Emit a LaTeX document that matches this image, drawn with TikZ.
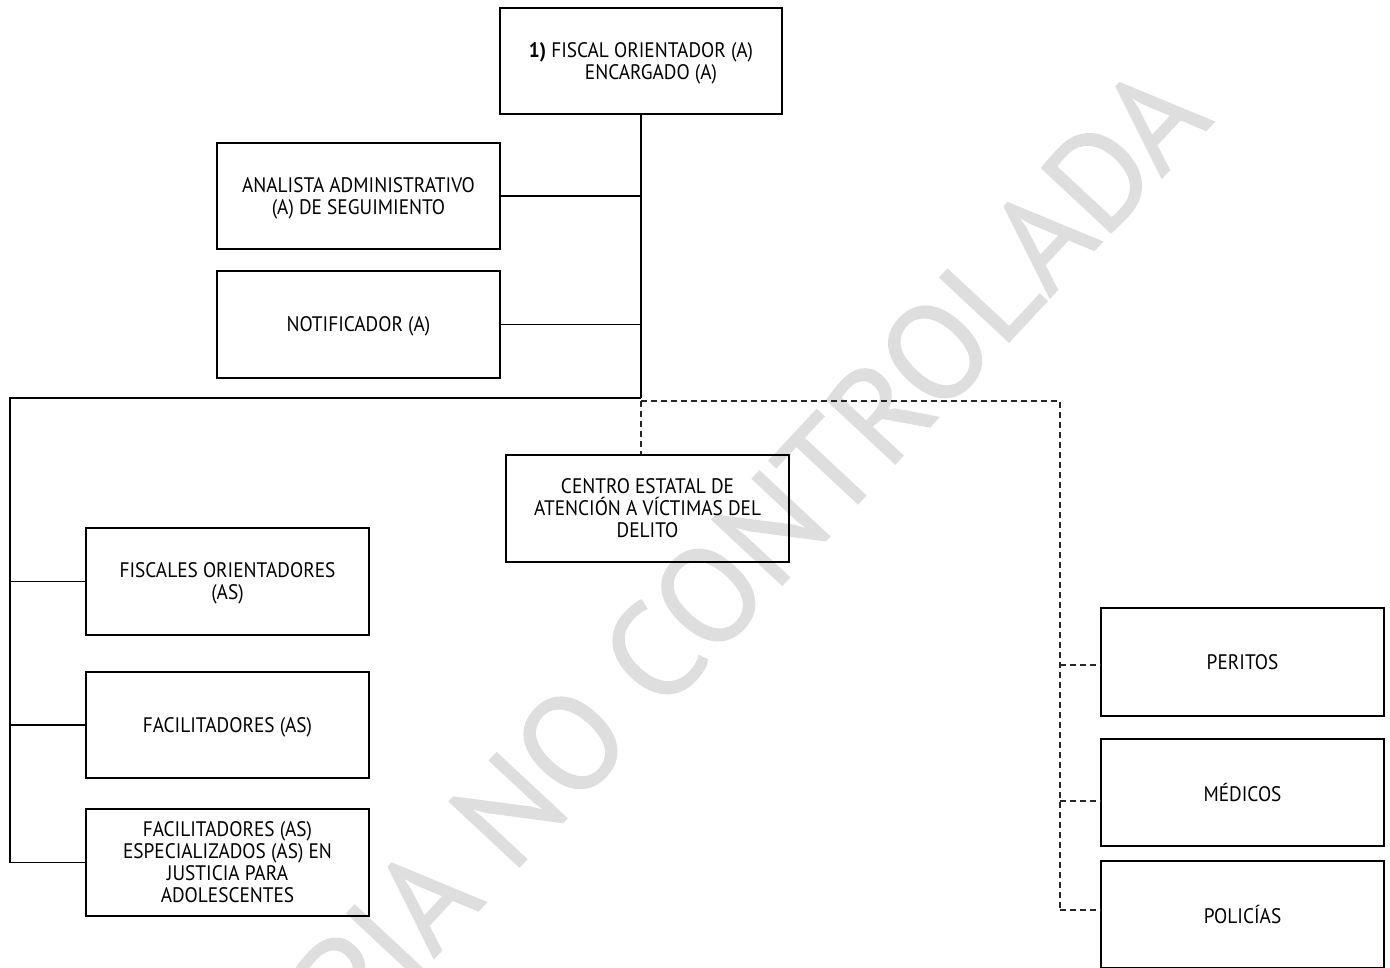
\documentclass[tikz,border=0pt]{standalone}
\usepackage{fontspec}
\setmainfont[FakeStretch=0.92]{PT Sans}
\newfontfamily\wmfont[FakeBold=1]{PT Sans}
\begin{document}
\begin{tikzpicture}[x=1pt,y=-1pt,
  orgbox/.style={draw=black, line width=1.8pt, minimum width=283pt, minimum height=107pt,
    align=center, inner sep=0pt, text depth=0pt, font=\fontsize{21}{22}\selectfont},
  conn/.style={draw=black, line width=1.1pt},
  dconn/.style={draw=black!85, line width=1.1pt, dash pattern=on 6pt off 4pt}]
\useasboundingbox (0,0) rectangle (1390,967);
\clip (0,0) rectangle (1390,967);
% watermark
\node[text=black!13, rotate=47, anchor=base east, inner sep=0pt,
  font=\wmfont\fontsize{135}{135}\selectfont] (wm) at (1215,121) {COPIA NO CONTROLADA};
% boxes
\node[orgbox, minimum width=282pt, minimum height=106pt] (top) at (641,61)
  {\textbf{1)} FISCAL ORIENTADOR (A)\\\hspace*{20pt}ENCARGADO (A)};
\node[orgbox, minimum height=106pt] (ana) at (358.5,196) {ANALISTA ADMINISTRATIVO\\(A) DE SEGUIMIENTO};
\node[orgbox] (noti) at (358.5,324.5) {NOTIFICADOR (A)};
\node[orgbox] (centro) at (647.5,508.5) {CENTRO ESTATAL DE\\ATENCIÓN A VÍCTIMAS DEL\\DELITO};
\node[orgbox] (fo) at (227.5,581.5) {FISCALES ORIENTADORES\\(AS)};
\node[orgbox, minimum height=106pt] (fac) at (227.5,725) {FACILITADORES (AS)};
\node[orgbox] (face) at (227.5,862.5) {FACILITADORES (AS)\\ESPECIALIZADOS (AS) EN\\JUSTICIA PARA\\ADOLESCENTES};
\node[orgbox, minimum height=108pt] (per) at (1242.5,662) {PERITOS};
\node[orgbox] (med) at (1242.5,792.5) {MÉDICOS};
\node[orgbox] (pol) at (1242.5,914.5) {POLICÍAS};
% junction coordinates
\coordinate (J) at (641,398);
\coordinate (L) at (10,398);
\coordinate (D) at (641,401);
\coordinate (R) at (1060,401);
% solid connectors
\draw[conn] (top.south) -- (J);
\draw[conn] (ana.east) -- (ana.east -| J);
\draw[conn] (noti.east) -- (noti.east -| J);
\draw[conn] (J) -- (L) -- (L |- face.west) -- (face.west);
\draw[conn] (fo.west) -- (fo.west -| L);
\draw[conn] (fac.west) -- (fac.west -| L);
% dashed connectors
\draw[dconn] (D) -- (D |- centro.north);
\draw[dconn] (D) -- (R) -- ([yshift=4.5pt]pol.west -| R);
\draw[dconn] ([yshift=-3pt]per.west -| R) -- ([yshift=-3pt]per.west);
\draw[dconn] ([yshift=-8.5pt]med.west -| R) -- ([yshift=-8.5pt]med.west);
\draw[dconn] ([yshift=4.5pt]pol.west -| R) -- ([yshift=4.5pt]pol.west);
\end{tikzpicture}
\end{document}
